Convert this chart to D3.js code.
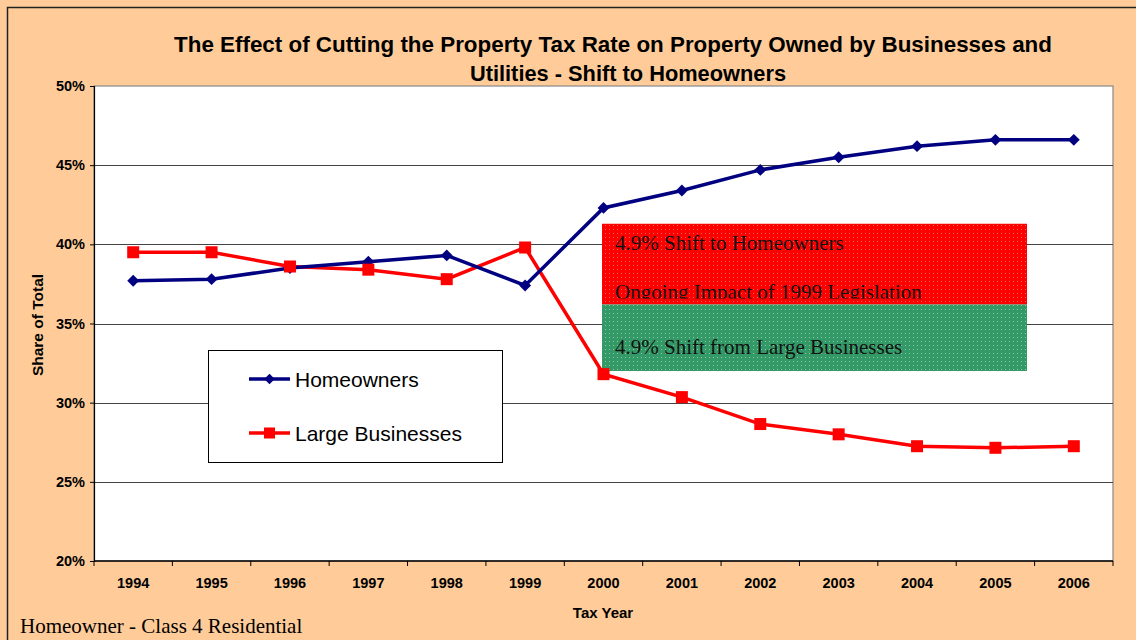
<!DOCTYPE html>
<html>
<head>
<meta charset="utf-8">
<script src="https://cdn.jsdelivr.net/npm/d3@7"></script>
<style>
  html, body { margin: 0; padding: 0; background: #FFCC99; }
  svg { display: block; }
</style>
</head>
<body>
<svg id="chart" width="1136" height="640"></svg>
<script>
// Tax years on the category axis
const years = ["1994", "1995", "1996", "1997", "1998", "1999", "2000",
               "2001", "2002", "2003", "2004", "2005", "2006"];
// Share of total property tax levy (%)
const homeowners = [37.7, 37.8, 38.5, 38.9, 39.3, 37.4, 42.3, 43.4, 44.7, 45.5, 46.2, 46.6, 46.6];
const largeBusinesses = [39.5, 39.5, 38.6, 38.4, 37.8, 39.8, 31.8, 30.35, 28.65, 28.0, 27.25, 27.15, 27.25];
// Value-axis ticks (%)
const yTicks = [20, 25, 30, 35, 40, 45, 50];
// Shift band annotation bounds (%): top, split, bottom
const bandTop = 41.3, bandSplit = 36.2, bandBottom = 32.0;

const svg = d3.select("#chart");
const W = 1136, H = 640;
const plot = { left: 94, right: 1113, top: 86, bottom: 561 };
const SANS = "Liberation Sans, Arial, sans-serif";
const SERIF = "Liberation Serif, Times New Roman, serif";

// outer frame
svg.append("rect").attr("x", 7.5).attr("y", 7.5).attr("width", W).attr("height", H)
  .attr("fill", "#FFCC99").attr("stroke", "#222").attr("stroke-width", 1.5);

const x = d3.scaleBand().domain(years).range([plot.left, plot.right]).padding(0);
const y = d3.scaleLinear().domain([20, 50]).range([plot.bottom, plot.top]);
const cx = d => x(d) + x.bandwidth() / 2;

// plot area
svg.append("rect").attr("x", plot.left).attr("y", plot.top)
  .attr("width", plot.right - plot.left).attr("height", plot.bottom - plot.top)
  .attr("fill", "#fff").attr("stroke", "#888").attr("stroke-width", 1.2);

// horizontal gridlines
svg.append("g").selectAll("line").data(yTicks.filter(t => t > 20 && t < 50)).join("line")
  .attr("x1", plot.left).attr("x2", plot.right)
  .attr("y1", d => Math.round(y(d)) + 0.5).attr("y2", d => Math.round(y(d)) + 0.5)
  .attr("stroke", "#444").attr("stroke-width", 1);

// dotted fill textures for the annotation band
const defs = svg.append("defs");
function dotPattern(id, base, dot, op) {
  const p = defs.append("pattern").attr("id", id).attr("patternUnits", "userSpaceOnUse")
    .attr("width", 4).attr("height", 4);
  p.append("rect").attr("width", 4).attr("height", 4).attr("fill", base);
  p.append("rect").attr("x", 1).attr("y", 1).attr("width", 1).attr("height", 1)
    .attr("fill", dot).attr("opacity", op);
}
dotPattern("dotRed", "#FF0000", "#ddd", 0.45);
dotPattern("dotGreen", "#339966", "#fff", 0.45);

const bx0 = 602, bx1 = 1027;
const redTop = y(bandTop), splitY = y(bandSplit), bottomY = y(bandBottom);
svg.append("rect").attr("x", bx0).attr("width", bx1 - bx0)
  .attr("y", redTop).attr("height", splitY - redTop).attr("fill", "url(#dotRed)");

// the red text box is cut off just below its second line
defs.append("clipPath").attr("id", "redClip").append("rect")
  .attr("x", bx0).attr("y", redTop).attr("width", bx1 - bx0).attr("height", splitY - redTop - 6);
const band = svg.append("g").attr("clip-path", "url(#redClip)");
band.append("text").attr("x", 615).attr("y", redTop + 26)
  .attr("font-family", SERIF).attr("font-size", 21)
  .attr("fill", "#111").text("4.9% Shift to Homeowners");
band.append("text").attr("x", 615).attr("y", redTop + 75.5)
  .attr("font-family", SERIF).attr("font-size", 21)
  .attr("fill", "#111").text("Ongoing Impact of 1999 Legislation");

svg.append("rect").attr("x", bx0).attr("width", bx1 - bx0)
  .attr("y", splitY).attr("height", bottomY - splitY).attr("fill", "url(#dotGreen)");
svg.append("text").attr("x", 615).attr("y", splitY + 49)
  .attr("font-family", SERIF).attr("font-size", 21)
  .attr("fill", "#111").text("4.9% Shift from Large Businesses");

// axes
const yAxis = d3.axisLeft(y).tickValues(yTicks).tickSize(4).tickFormat(d => d + "%");
const gy = svg.append("g").attr("transform", `translate(${plot.left},0)`).call(yAxis);
gy.select(".domain").attr("stroke", "#000").attr("stroke-width", 1.2);
gy.selectAll(".tick line").attr("stroke", "#000");
gy.selectAll(".tick text").attr("font-family", SANS)
  .attr("font-size", 14.5).attr("font-weight", "bold").attr("fill", "#000").attr("x", -9);

const gx = svg.append("g").attr("transform", `translate(0,${plot.bottom})`);
gx.append("line").attr("x1", plot.left).attr("x2", plot.right).attr("y1", 0).attr("y2", 0)
  .attr("stroke", "#000").attr("stroke-width", 1.5);
const boundaries = years.map(d => x(d)).concat([plot.right]);
gx.selectAll("line.tk").data(boundaries).join("line").attr("class", "tk")
  .attr("x1", d => d).attr("x2", d => d).attr("y1", 0).attr("y2", 5).attr("stroke", "#000");
gx.selectAll("text").data(years).join("text")
  .attr("x", d => cx(d)).attr("y", 27).attr("text-anchor", "middle")
  .attr("font-family", SANS).attr("font-size", 14.5)
  .attr("font-weight", "bold").attr("fill", "#000").text(d => d);

// series
const lineGen = d3.line().x((d, i) => cx(years[i])).y(d => y(d));
svg.append("path").datum(largeBusinesses).attr("d", lineGen)
  .attr("fill", "none").attr("stroke", "#FF0000").attr("stroke-width", 3.5);
svg.append("path").datum(homeowners).attr("d", lineGen)
  .attr("fill", "none").attr("stroke", "#000080").attr("stroke-width", 3.5);

svg.append("g").selectAll("path").data(homeowners).join("path")
  .attr("d", d3.symbol(d3.symbolDiamond2, 90)())
  .attr("transform", (d, i) => `translate(${cx(years[i])},${y(d)})`)
  .attr("fill", "#000080");
svg.append("g").selectAll("rect").data(largeBusinesses).join("rect")
  .attr("x", (d, i) => cx(years[i]) - 6).attr("y", d => y(d) - 6)
  .attr("width", 12).attr("height", 12).attr("fill", "#FF0000");

// legend
const lg = svg.append("g");
lg.append("rect").attr("x", 208.5).attr("y", 350.5).attr("width", 294).attr("height", 112)
  .attr("fill", "#fff").attr("stroke", "#000").attr("stroke-width", 1);
const legendItems = [
  { name: "Homeowners", color: "#000080", shape: "diamond", yy: 379 },
  { name: "Large Businesses", color: "#FF0000", shape: "square", yy: 433 }
];
legendItems.forEach(it => {
  lg.append("line").attr("x1", 249).attr("x2", 290).attr("y1", it.yy).attr("y2", it.yy)
    .attr("stroke", it.color).attr("stroke-width", 3.5);
  if (it.shape === "diamond") {
    lg.append("path").attr("d", d3.symbol(d3.symbolDiamond2, 70)())
      .attr("transform", `translate(269.5,${it.yy})`).attr("fill", it.color);
  } else {
    lg.append("rect").attr("x", 264).attr("y", it.yy - 5.5).attr("width", 11).attr("height", 11)
      .attr("fill", it.color);
  }
  lg.append("text").attr("x", 295).attr("y", it.yy + 7.5)
    .attr("font-family", SANS).attr("font-size", 21)
    .attr("fill", "#000").text(it.name);
});

// titles
const title = svg.append("text").attr("text-anchor", "middle")
  .attr("font-family", SANS).attr("font-size", 22.4)
  .attr("font-weight", "bold").attr("fill", "#000");
title.append("tspan").attr("x", 613).attr("y", 52)
  .text("The Effect of Cutting the Property Tax Rate on Property Owned by Businesses and");
title.append("tspan").attr("x", 628).attr("y", 81).attr("font-size", 21.8)
  .text("Utilities - Shift to Homeowners");

svg.append("text").attr("transform", "translate(43,325) rotate(-90)").attr("text-anchor", "middle")
  .attr("font-family", SANS).attr("font-size", 15.5)
  .attr("font-weight", "bold").attr("fill", "#000").text("Share of Total");
svg.append("text").attr("x", 603).attr("y", 618).attr("text-anchor", "middle")
  .attr("font-family", SANS).attr("font-size", 15)
  .attr("font-weight", "bold").attr("fill", "#000").text("Tax Year");

svg.append("text").attr("x", 20).attr("y", 633)
  .attr("font-family", SERIF).attr("font-size", 21)
  .attr("fill", "#000").text("Homeowner - Class 4 Residential");
</script>
</body>
</html>
